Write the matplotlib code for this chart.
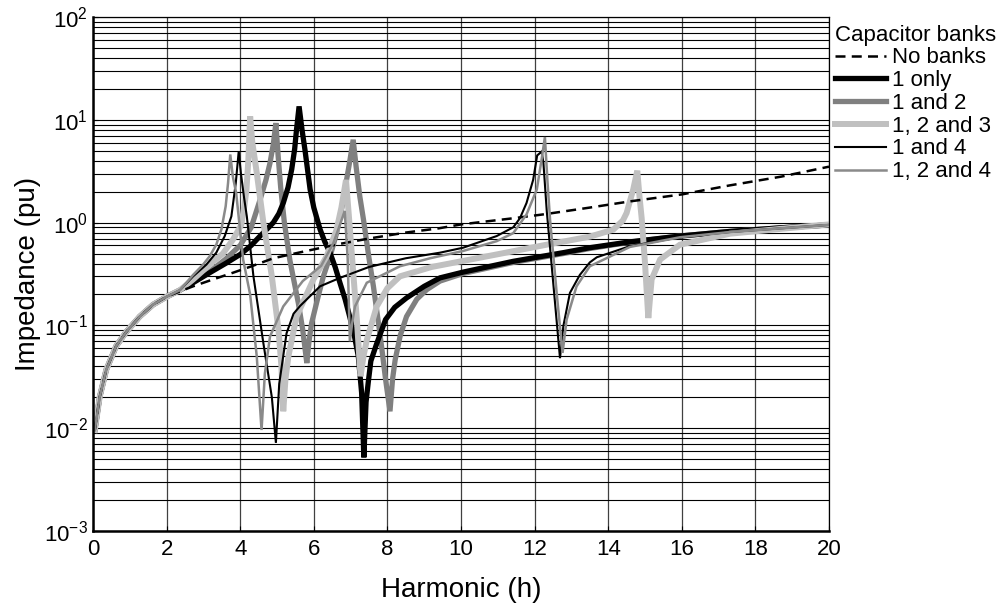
import matplotlib
matplotlib.use("Agg")
import matplotlib.pyplot as plt

plt.rcParams["font.family"] = ["Liberation Sans", "DejaVu Sans"]

# shared low-frequency part (all cases overlap here)
h_common = [0.05, 0.18, 0.36, 0.63, 0.91, 1.27, 1.63, 2.0]
z_common = [0.0096, 0.020, 0.037, 0.063, 0.087, 0.122, 0.159, 0.19]

h_none = [2.36, 2.72, 3.26, 3.8, 4.3, 4.9, 5.8, 6.7, 7.5, 8.5, 9.4, 10.0, 11.4,
          12.3, 13.5, 14.6, 16.0, 17.3, 18.7, 19.2, 20.0]
z_none = [0.214, 0.24, 0.28, 0.325, 0.375, 0.45, 0.53, 0.62, 0.70, 0.80, 0.88,
          0.96, 1.10, 1.21, 1.40, 1.61, 1.88, 2.3, 2.8, 3.05, 3.5]

h_b1 = [2.36, 2.72, 3.2, 3.6, 4.0, 4.3, 4.54, 4.75, 4.9, 5.05, 5.17, 5.3, 5.4, 5.48,
        5.53, 5.6, 5.68, 5.76, 5.9, 6.0, 6.17, 6.3, 6.44, 6.58, 6.71, 6.85, 6.98, 7.1,
        7.21, 7.3, 7.36, 7.42, 7.48, 7.55, 7.7, 7.95, 8.2, 8.52, 9.0, 9.43, 10.06,
        11.42, 12.78, 13.5, 14.6, 15.95, 17.3, 18.7, 20.0]
z_b1 = [0.22, 0.26, 0.33, 0.40, 0.49, 0.6, 0.74, 0.88, 1.0, 1.22, 1.55, 2.2, 3.3, 5.2,
        8.0, 13.5, 8.0, 5.1, 2.1, 1.4, 0.86, 0.65, 0.51, 0.37, 0.26, 0.18, 0.12, 0.08,
        0.05, 0.022, 0.0052, 0.018, 0.028, 0.045, 0.065, 0.114, 0.15, 0.185, 0.24,
        0.29, 0.33, 0.42, 0.51, 0.57, 0.65, 0.74, 0.82, 0.89, 0.95]

h_b12 = [2.36, 2.72, 3.2, 3.6, 4.0, 4.3, 4.54, 4.7, 4.81, 4.9, 4.97, 5.03, 5.1, 5.2,
         5.35, 5.58, 5.7, 5.81, 5.87, 5.94, 6.1, 6.26, 6.45, 6.62, 6.78, 6.89, 6.98,
         7.07, 7.15, 7.25, 7.35, 7.5, 7.62, 7.75, 7.84, 7.95, 8.07, 8.14, 8.21, 8.35,
         8.52, 8.8, 9.07, 9.43, 10.06, 11.42, 12.78, 13.5, 14.6, 15.95, 17.3, 18.7, 20.0]
z_b12 = [0.22, 0.265, 0.34, 0.44, 0.6, 0.9, 1.67, 2.6, 3.8, 5.8, 9.3, 4.5, 2.2, 1.0,
         0.43, 0.165, 0.09, 0.043, 0.07, 0.105, 0.18, 0.30, 0.48, 0.79, 1.5, 2.6, 4.0,
         6.4, 3.5, 1.8, 1.07, 0.45, 0.24, 0.11, 0.063, 0.03, 0.0146, 0.03, 0.046, 0.08,
         0.122, 0.18, 0.223, 0.27, 0.32, 0.41, 0.50, 0.56, 0.645, 0.74, 0.82, 0.89, 0.95]

h_b123 = [2.36, 2.72, 3.17, 3.53, 3.8, 4.03, 4.12, 4.17, 4.22, 4.27, 4.33, 4.45, 4.63,
          4.86, 5.04, 5.12, 5.17, 5.23, 5.31, 5.53, 5.99, 6.35, 6.62, 6.75, 6.875, 6.95,
          7.03, 7.17, 7.27, 7.35, 7.44, 7.71, 8.0, 8.34, 9.2, 10.97, 12.33, 13.5, 14.14,
          14.4, 14.5, 14.68, 14.79, 14.85, 14.91, 15.0, 15.09, 15.18, 15.41, 15.95,
          17.31, 18.7, 20.0]
z_b123 = [0.22, 0.28, 0.39, 0.50, 0.68, 0.95, 1.5, 2.1, 4.0, 10.8, 6.0, 3.05, 1.0,
          0.30, 0.091, 0.04, 0.0146, 0.03, 0.05, 0.122, 0.28, 0.47, 0.855, 1.4, 2.6, 1.2,
          0.51, 0.114, 0.032, 0.05, 0.072, 0.153, 0.23, 0.30, 0.37, 0.49, 0.61, 0.73,
          0.855, 1.05, 1.24, 2.1, 3.2, 1.8, 1.1, 0.405, 0.118, 0.28, 0.437, 0.61, 0.78,
          0.87, 0.96]

h_b14 = [2.36, 2.72, 3.08, 3.35, 3.58, 3.76, 3.88, 3.96, 4.02, 4.1, 4.18, 4.36, 4.63,
         4.86, 4.97, 5.06, 5.26, 5.45, 5.63, 6.17, 6.71, 7.5, 8.5, 9.43, 10.06, 10.97,
         11.42, 11.6, 11.78, 11.96, 12.07, 12.19, 12.24, 12.33, 12.51, 12.69, 12.78,
         12.96, 13.23, 13.5, 13.69, 14.59, 15.95, 17.31, 18.7, 20.0]
z_b14 = [0.22, 0.30, 0.39, 0.51, 0.74, 1.15, 2.43, 4.95, 3.0, 1.8, 1.15, 0.30, 0.067,
         0.020, 0.0072, 0.027, 0.084, 0.13, 0.155, 0.24, 0.29, 0.37, 0.45, 0.51, 0.57,
         0.74, 0.9, 1.1, 1.55, 2.6, 4.5, 4.9, 3.8, 1.3, 0.25, 0.048, 0.098, 0.207, 0.31,
         0.41, 0.46, 0.59, 0.72, 0.81, 0.88, 0.95]

h_b124 = [2.36, 2.72, 2.99, 3.17, 3.35, 3.49, 3.605, 3.67, 3.73, 3.8, 3.89, 4.08, 4.27,
          4.45, 4.58, 4.67, 4.81, 5.17, 5.7, 6.2, 6.53, 6.71, 6.84, 6.92, 6.98, 7.05,
          7.12, 7.44, 8.34, 9.16, 10.06, 10.97, 11.42, 11.78, 12.06, 12.19, 12.28,
          12.35, 12.42, 12.6, 12.76, 12.87, 13.14, 13.5, 14.59, 15.95, 17.31, 18.7, 20.0]
z_b124 = [0.22, 0.31, 0.39, 0.47, 0.61, 0.86, 1.44, 2.43, 4.6, 2.8, 1.95, 0.437, 0.2,
          0.05, 0.0096, 0.034, 0.078, 0.153, 0.27, 0.38, 0.63, 0.95, 1.3, 0.45, 0.07,
          0.11, 0.153, 0.26, 0.376, 0.45, 0.53, 0.66, 0.79, 1.2, 2.1, 4.1, 6.8, 2.5,
          1.07, 0.206, 0.054, 0.114, 0.24, 0.376, 0.58, 0.72, 0.81, 0.88, 0.95]

series = [
    ("No banks", h_none, z_none, dict(color="black", lw=1.8, ls=(0, (4, 2.5)))),
    ("1 only", h_b1, z_b1, dict(color="black", lw=3.8)),
    ("1 and 2", h_b12, z_b12, dict(color="#808080", lw=3.8)),
    ("1, 2 and 3", h_b123, z_b123, dict(color="#c0c0c0", lw=4.3)),
    ("1 and 4", h_b14, z_b14, dict(color="black", lw=1.5)),
    ("1, 2 and 4", h_b124, z_b124, dict(color="#8a8a8a", lw=1.8)),
]
draw_order = ["1 and 2", "1 only", "1, 2 and 3", "No banks", "1 and 4", "1, 2 and 4"]

fig = plt.figure(figsize=(10.04, 6.08), dpi=100)
ax = fig.add_axes([93 / 1004, 1 - 531 / 608, 736 / 1004, 514 / 608])

handles = {}
for name in draw_order:
    for label, hx, zy, st in series:
        if label == name:
            ln, = ax.plot(h_common + hx, z_common + zy, label=label,
                          solid_joinstyle="miter", **st)
            handles[label] = ln

ax.set_yscale("log")
ax.set_xlim(0, 20)
ax.set_ylim(1e-3, 1e2)
ax.set_xticks(range(0, 21, 2))
ax.grid(True, which="major", axis="x", color="0.25", lw=0.9)
ax.grid(True, which="both", axis="y", color="black", lw=0.8)
ax.set_axisbelow(True)
ax.tick_params(axis="both", which="both", direction="in", labelsize=16)
ax.tick_params(axis="y", which="minor", length=0)
ax.tick_params(axis="x", pad=6)
for side in ["left", "bottom"]:
    ax.spines[side].set_linewidth(1.8)
for side in ["top", "right"]:
    ax.spines[side].set_linewidth(0.9)

ax.set_xlabel("Harmonic (h)", fontsize=20, labelpad=12)
ax.set_ylabel("Impedance (pu)", fontsize=20)
ax.yaxis.set_label_coords(-0.07, 0.5)

order = [s[0] for s in series]
leg = fig.legend([handles[k] for k in order], order, title="Capacitor banks",
                 loc="upper left", bbox_to_anchor=(835 / 1004, 1 - 25 / 608),
                 frameon=False, fontsize=16, title_fontsize=16, handlelength=2.3,
                 handletextpad=0.25, labelspacing=0.08, borderpad=0, borderaxespad=0)
leg._legend_box.align = "left"
leg._legend_box.sep = 1

fig.savefig("out.png", dpi=100)
